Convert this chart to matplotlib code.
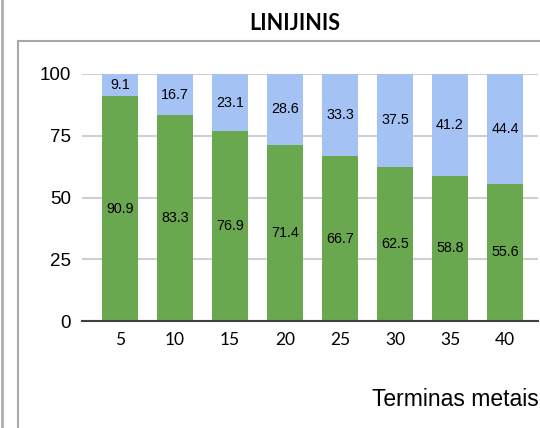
import matplotlib
matplotlib.use("Agg")
import matplotlib.pyplot as plt
from matplotlib.lines import Line2D

categories = ["5", "10", "15", "20", "25", "30", "35", "40"]
green_vals = [90.9, 83.3, 76.9, 71.4, 66.7, 62.5, 58.8, 55.6]
blue_vals = [9.1, 16.7, 23.1, 28.6, 33.3, 37.5, 41.2, 44.4]
yticks = [0, 25, 50, 75, 100]
title = "LINIJINIS"
xlabel = "Terminas metais"

GREEN = "#6aa84f"
BLUE = "#a4c2f4"

W, H = 540, 428
fig = plt.figure(figsize=(W / 100, H / 100), dpi=100)

def fx(px):
    return px / W

def fy(py):
    return 1 - py / H

ax = fig.add_axes([fx(82), fy(321), fx(538) - fx(82), fy(74) - fy(321)])
x = list(range(len(categories)))
ax.bar(x, green_vals, width=0.65, color=GREEN, zorder=2)
ax.bar(x, blue_vals, width=0.65, bottom=green_vals, color=BLUE, zorder=2)

for i, (g, b) in enumerate(zip(green_vals, blue_vals)):
    ax.text(i, g / 2, f"{g:.1f}", ha="center", va="center", fontsize=10.3,
            family="Liberation Sans", color="black", zorder=3)
    ax.text(i, g + b / 2, f"{b:.1f}", ha="center", va="center", fontsize=10.3,
            family="Liberation Sans", color="black", zorder=3)

ax.set_xlim(-0.69, 7.6)
ax.set_ylim(0, 100)
ax.set_yticks(yticks)
ax.set_yticklabels([str(v) for v in yticks], family="Liberation Sans", fontsize=13.5)
ax.set_xticks(x)
ax.set_xticklabels(categories, family="Lato", fontsize=12.5)
ax.tick_params(axis="both", length=0)
ax.tick_params(axis="y", pad=8)
ax.tick_params(axis="x", pad=8)
for s in ["top", "right", "left"]:
    ax.spines[s].set_visible(False)
ax.spines["bottom"].set_color("#404040")
ax.spines["bottom"].set_linewidth(1.5)
ax.spines["bottom"].set_zorder(4)
ax.yaxis.grid(True, color="#d0d0d0", linewidth=1.5, zorder=0)
ax.set_axisbelow(True)

fig.text(fx(295), fy(23), title, ha="center", va="center", fontsize=15.5,
         fontweight="bold", family="Lato")
fig.text(fx(539), fy(400), xlabel, ha="right", va="center", fontsize=16.5,
         family="Liberation Sans")

# frame lines
fig.add_artist(Line2D([fx(1.5), fx(1.5)], [0, 1], color="#b0b0b0", linewidth=2,
                      transform=fig.transFigure))
fig.add_artist(Line2D([fx(18), fx(18)], [0, fy(41)], color="#a8a8a8", linewidth=1.5,
                      transform=fig.transFigure))
fig.add_artist(Line2D([fx(18), 1], [fy(41), fy(41)], color="#a8a8a8", linewidth=1.5,
                      transform=fig.transFigure))

fig.savefig("out.png", dpi=100)
